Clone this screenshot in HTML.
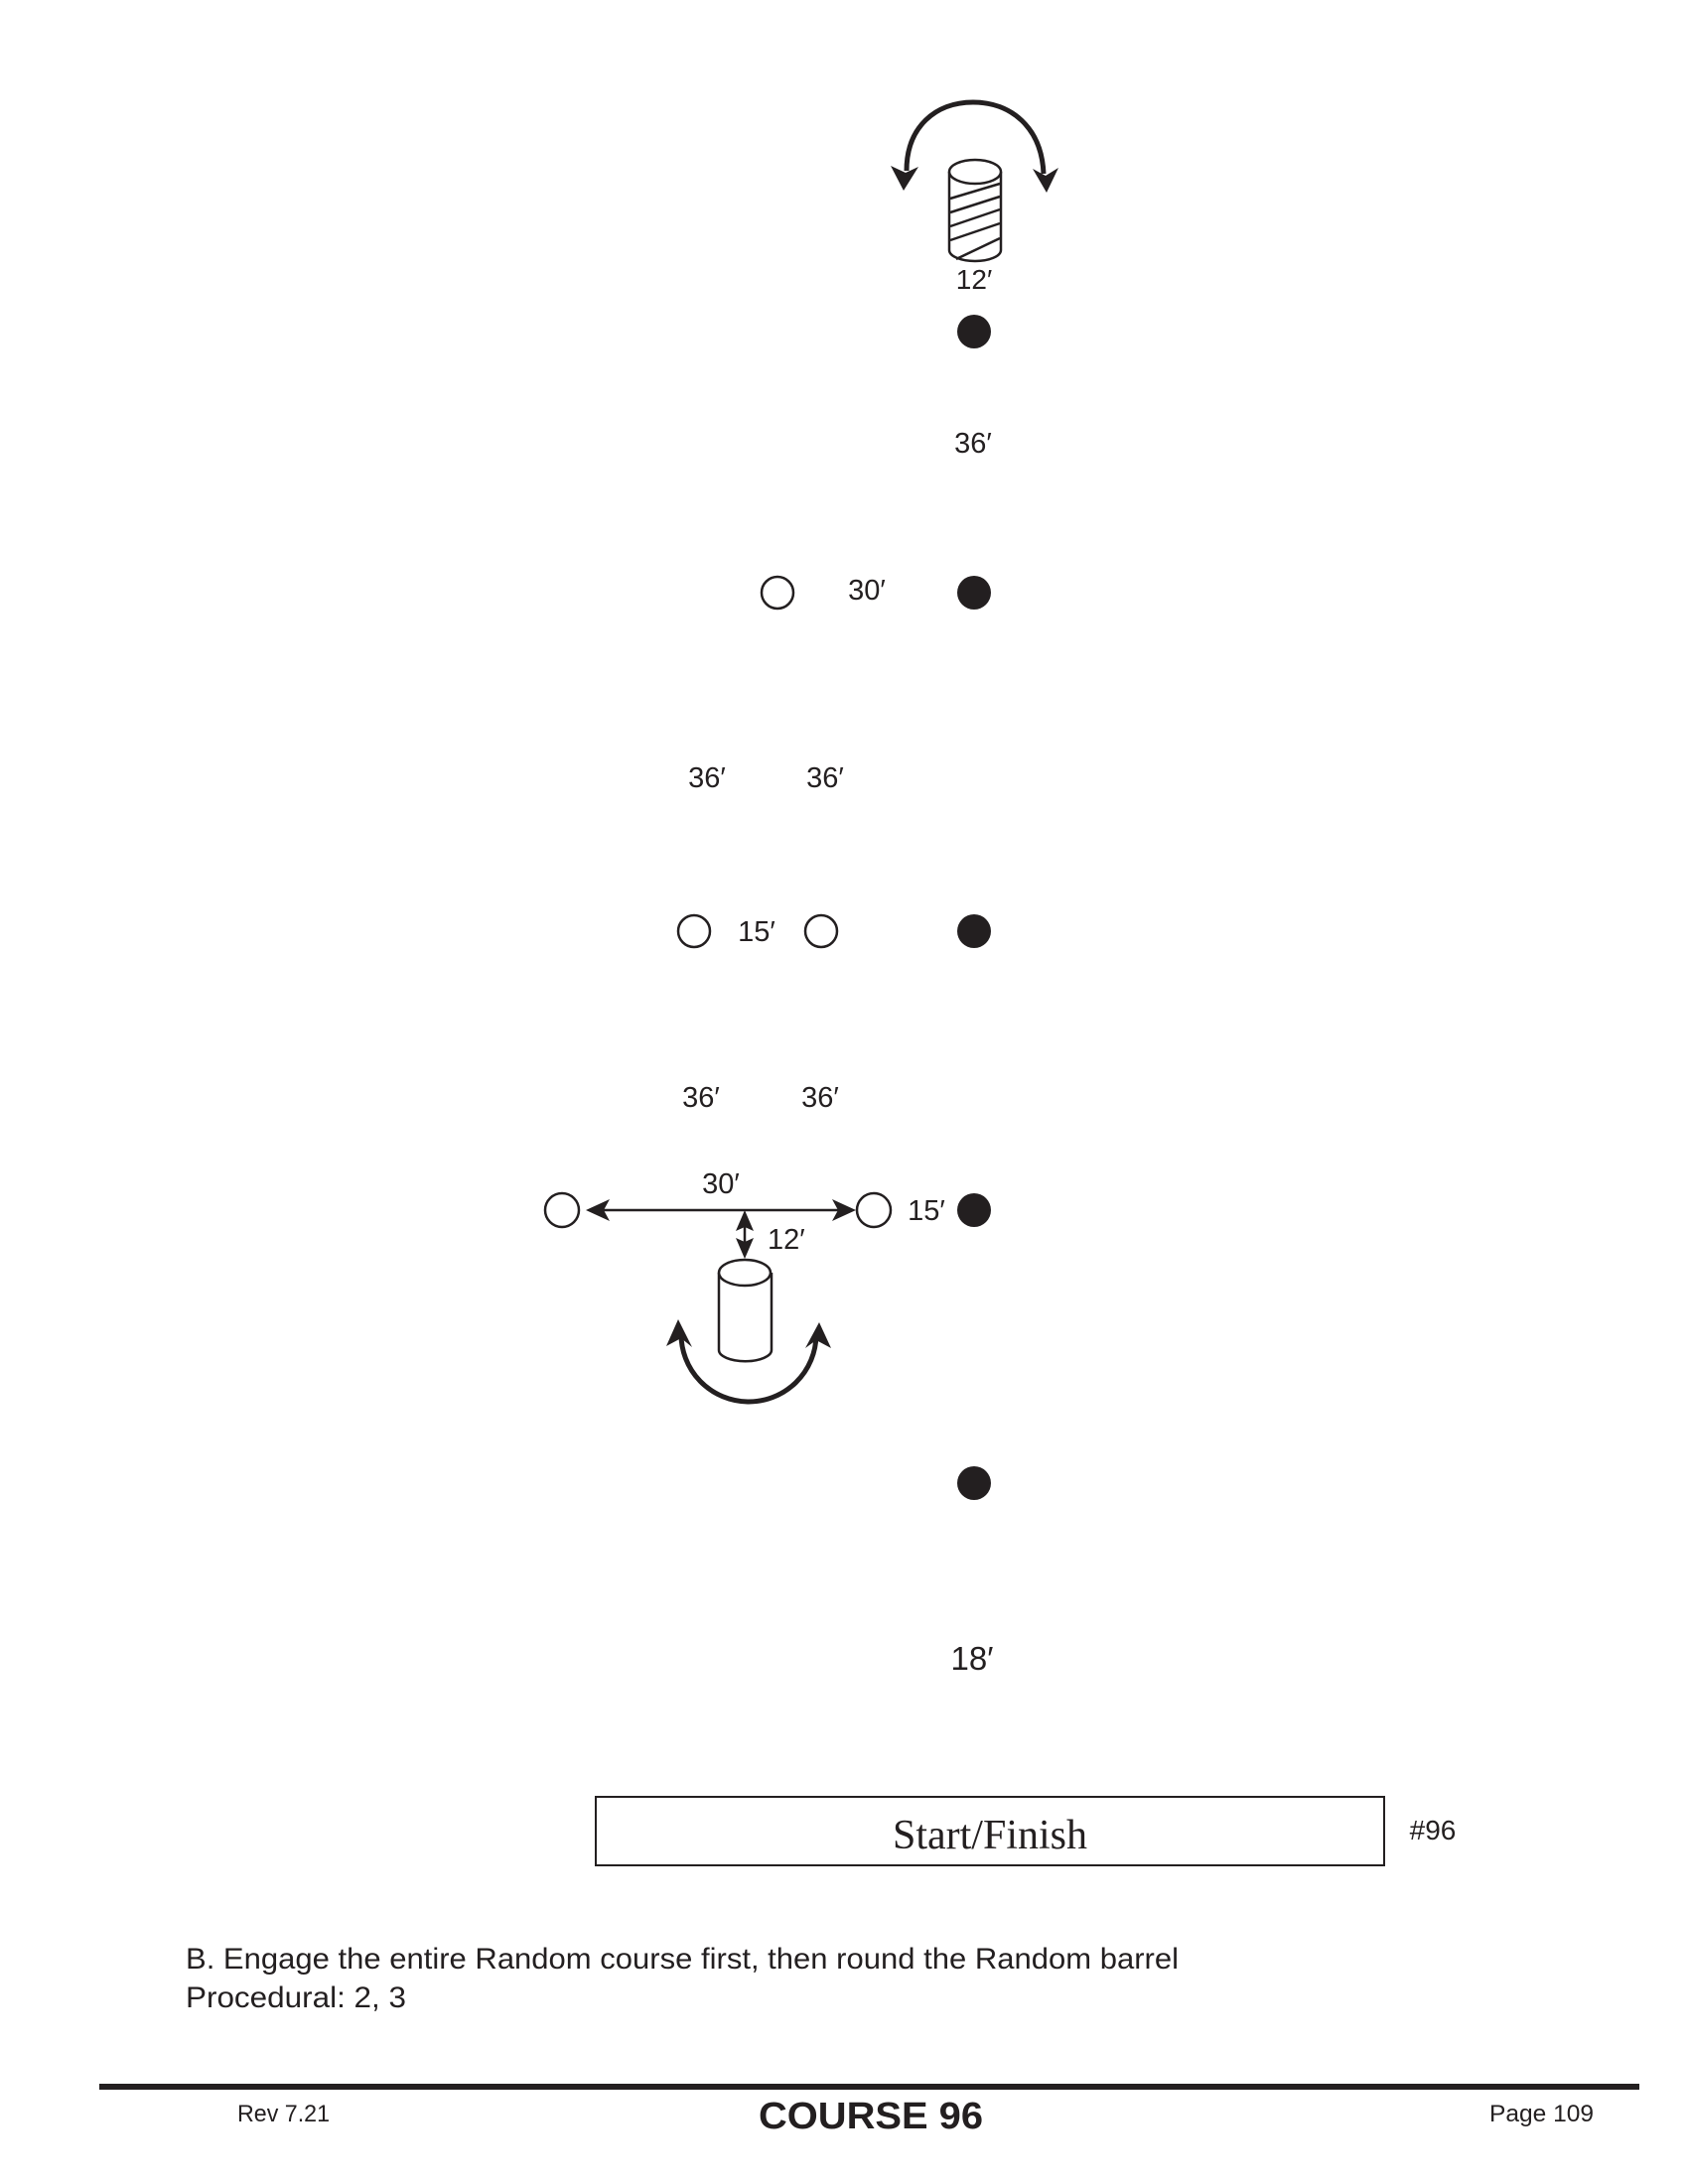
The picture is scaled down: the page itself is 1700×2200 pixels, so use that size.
<!DOCTYPE html>
<html><head><meta charset="utf-8"><style>
html,body{margin:0;padding:0;background:#fff;}
svg{display:block;}
</style></head><body>
<svg width="1700" height="2200" viewBox="0 0 1700 2200" xmlns="http://www.w3.org/2000/svg" font-family="'Liberation Sans', sans-serif" fill="#231f20">

<!-- top barrel with arc -->
<path d="M913,172 C913,128 942,103 980,103 C1018,103 1049,128 1051,175" fill="none" stroke="#231f20" stroke-width="5"/>
<path d="M910,192 L897,167 L912,174 L925,168 Z"/>
<path d="M1054,194 L1040,170 L1053,177 L1066,169 Z"/>
<g stroke="#231f20" stroke-width="2.5" fill="#fff">
<path d="M956,173 L956,252 A26,11 0 0 0 1008,252 L1008,173"/>
<ellipse cx="982" cy="173" rx="26" ry="12"/>
<line x1="957" y1="200" x2="1007" y2="185"/>
<line x1="957" y1="214" x2="1007" y2="198"/>
<line x1="957" y1="228" x2="1007" y2="211"/>
<line x1="957" y1="242" x2="1007" y2="225"/>
<line x1="963" y1="261" x2="1007" y2="240"/>
</g>
<text x="981" y="291" font-size="28" text-anchor="middle">12′</text>
<circle cx="981" cy="334" r="17"/>

<text x="980" y="456" font-size="29" text-anchor="middle">36′</text>

<circle cx="783" cy="597" r="16" fill="#fff" stroke="#231f20" stroke-width="2.5"/>
<text x="873" y="604" font-size="29" text-anchor="middle">30′</text>
<circle cx="981" cy="597" r="17"/>

<text x="712" y="793" font-size="29" text-anchor="middle">36′</text>
<text x="831" y="793" font-size="29" text-anchor="middle">36′</text>

<circle cx="699" cy="938" r="16" fill="#fff" stroke="#231f20" stroke-width="2.5"/>
<text x="762" y="948" font-size="29" text-anchor="middle">15′</text>
<circle cx="827" cy="938" r="16" fill="#fff" stroke="#231f20" stroke-width="2.5"/>
<circle cx="981" cy="938" r="17"/>

<text x="706" y="1115" font-size="29" text-anchor="middle">36′</text>
<text x="826" y="1115" font-size="29" text-anchor="middle">36′</text>

<!-- bottom row -->
<text x="726" y="1202" font-size="29" text-anchor="middle">30′</text>
<circle cx="566" cy="1219" r="17" fill="#fff" stroke="#231f20" stroke-width="2.5"/>
<circle cx="880" cy="1219" r="17" fill="#fff" stroke="#231f20" stroke-width="2.5"/>
<line x1="600" y1="1219" x2="850" y2="1219" stroke="#231f20" stroke-width="2.5"/>
<path d="M590,1219 L614,1208 L608,1219 L614,1230 Z"/>
<path d="M862,1219 L838,1208 L844,1219 L838,1230 Z"/>
<text x="933" y="1229" font-size="29" text-anchor="middle">15′</text>
<circle cx="981" cy="1219" r="17"/>
<line x1="750" y1="1225" x2="750" y2="1262" stroke="#231f20" stroke-width="2.5"/>
<path d="M750,1219 L741,1240 L750,1236 L759,1240 Z"/>
<path d="M750,1268 L741,1247 L750,1251 L759,1247 Z"/>
<text x="773" y="1258" font-size="29">12′</text>

<g stroke="#231f20" stroke-width="2.5" fill="#fff">
<path d="M724,1282 L724,1360 A26,11 0 0 0 777,1360 L777,1282"/>
<ellipse cx="750" cy="1282" rx="26" ry="13"/>
</g>
<path d="M686,1343 A68,68 0 0 0 822,1345" fill="none" stroke="#231f20" stroke-width="5"/>
<path d="M683,1329 L671,1356 L686,1348 L697,1357 Z"/>
<path d="M825,1332 L811,1358 L822,1350 L837,1358 Z"/>

<circle cx="981" cy="1494" r="17"/>
<text x="979" y="1682" font-size="33" text-anchor="middle">18′</text>

<rect x="600" y="1810" width="794" height="69" fill="none" stroke="#231f20" stroke-width="2"/>
<text x="997" y="1862" font-size="42" text-anchor="middle" font-family="'Liberation Serif', serif">Start/Finish</text>
<text x="1443" y="1853" font-size="28" text-anchor="middle">#96</text>

<text x="187" y="1983" font-size="30" textLength="1000" lengthAdjust="spacingAndGlyphs">B. Engage the entire Random course first, then round the Random barrel</text>
<text x="187" y="2022" font-size="30" textLength="222" lengthAdjust="spacingAndGlyphs">Procedural: 2, 3</text>

<rect x="100" y="2099" width="1551" height="6"/>
<text x="239" y="2137" font-size="24" textLength="93" lengthAdjust="spacingAndGlyphs">Rev 7.21</text>
<text x="877" y="2144" font-size="38" font-weight="bold" text-anchor="middle" textLength="226" lengthAdjust="spacingAndGlyphs">COURSE 96</text>
<text x="1500" y="2137" font-size="24" textLength="105" lengthAdjust="spacingAndGlyphs">Page 109</text>
</svg>
</body></html>
